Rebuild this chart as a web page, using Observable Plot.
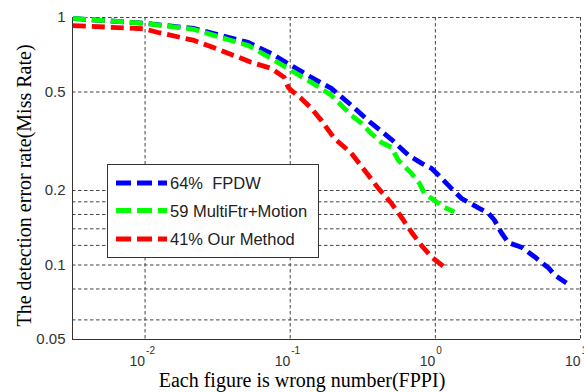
<!DOCTYPE html>
<html>
<head>
<meta charset="utf-8">
<script src="https://cdn.jsdelivr.net/npm/d3@7"></script>
<script src="https://cdn.jsdelivr.net/npm/@observablehq/plot@0.6"></script>
<style>
  html, body { margin: 0; padding: 0; background: #fff; }
  #chart { width: 584px; height: 392px; }
</style>
</head>
<body>
<div id="chart"></div>
<script>
// ---- data ----
const fpdwFppi = [0.00318,0.00984,0.0218,0.0334,0.0513,0.074,0.1016,0.1396,0.1919,0.2635,0.362,0.497,0.652,0.801,0.938,1.049,1.289,1.511,1.98,2.32,2.55,2.85,3.19,3.92,4.82,6.02,6.62,8.0];
const fpdwMiss = [0.991,0.948,0.903,0.846,0.793,0.716,0.640,0.573,0.517,0.442,0.374,0.322,0.278,0.258,0.246,0.231,0.204,0.186,0.170,0.162,0.152,0.135,0.123,0.118,0.108,0.0973,0.0912,0.0846];

const mftrFppi = [0.00318,0.00984,0.0218,0.0334,0.0513,0.074,0.1016,0.1396,0.1919,0.2635,0.309,0.362,0.424,0.497,0.556,0.683,0.776,0.840,0.938,1.154,1.352];
const mftrMiss = [0.991,0.948,0.895,0.830,0.771,0.683,0.611,0.547,0.485,0.403,0.374,0.340,0.313,0.299,0.265,0.235,0.214,0.195,0.186,0.171,0.164];

const oursFppi = [0.00318,0.00984,0.0123,0.0218,0.0334,0.0459,0.0538,0.074,0.0909,0.0969,0.1016,0.119,0.1396,0.1637,0.201,0.2635,0.324,0.405,0.497,0.583,0.683,0.801,0.938,1.154];
const oursMiss = [0.928,0.900,0.870,0.808,0.736,0.684,0.659,0.623,0.573,0.522,0.508,0.471,0.430,0.384,0.325,0.283,0.242,0.204,0.178,0.156,0.136,0.120,0.108,0.098];

const seriesNames = ["64%  FPDW", "59 MultiFtr+Motion", "41% Our Method"];
const seriesColors = ["#0000ff", "#00ff00", "#ff0000"];

const xTicks = [0.01, 0.1, 1, 10];
const xTickExp = ["-2", "-1", "0", "1"];
const yTicks = [0.05, 0.1, 0.2, 0.5, 1];
const yTickLabels = ["0.05", "0.1", "0.2", "0.5", "1"];
const yGrid = [1, 0.5, 0.2, 0.18, 0.16, 0.14, 0.12, 0.1, 0.08, 0.06];
const xGrid = [0.01, 0.1, 1, 10];

const xLabel = "Each figure is wrong number(FPPI)";
const yLabel = "The detection error rate(Miss Rate)";

// ---- build table ----
const rows = [];
[[fpdwFppi, fpdwMiss], [mftrFppi, mftrMiss], [oursFppi, oursMiss]].forEach(([xs, ys], i) => {
  xs.forEach((x, j) => rows.push({series: seriesNames[i], fppi: x, miss: ys[j]}));
});

const xMin = Math.pow(10, -2.5);
const gridStyle = {stroke: "#444", strokeWidth: 1, strokeDasharray: "3.5,2.5"};
const tickFont = "Liberation Sans, Arial, sans-serif";
const serif = "Liberation Serif, Times New Roman, serif";

const chart = Plot.plot({
  width: 584,
  height: 392,
  marginLeft: 72,
  marginRight: 4,
  marginTop: 17,
  marginBottom: 53,
  style: {background: "#fff"},
  x: {type: "log", domain: [xMin, 10], axis: null},
  y: {type: "log", domain: [0.05, 1], axis: null},
  color: {domain: seriesNames, range: seriesColors},
  marks: [
    Plot.ruleY(yGrid, {y: d => d, ...gridStyle}),
    Plot.ruleX(xGrid, {x: d => d, ...gridStyle}),
    Plot.ruleX([xMin], {x: d => d, stroke: "#333", strokeWidth: 1}),
    Plot.ruleY([0.05], {y: d => d, stroke: "#333", strokeWidth: 1}),
    Plot.line(rows, {
      x: "fppi", y: "miss", z: "series", stroke: "series",
      strokeWidth: 4.8, strokeDasharray: "13,6", strokeLinecap: "butt", strokeLinejoin: "round"
    }),
    // y tick labels
    Plot.text(yTicks, {
      y: d => d, frameAnchor: "left", dx: -7, textAnchor: "end",
      text: (d, i) => yTickLabels[i], fontSize: 15, fontFamily: tickFont, fill: "#333"
    }),
    // x tick labels: base "10" + superscript exponent
    Plot.text(xTicks, {
      x: d => d, frameAnchor: "bottom", dy: 26, lineAnchor: "bottom", textAnchor: "end",
      text: () => "10", fontSize: 14, fontFamily: tickFont, fill: "#333"
    }),
    Plot.text(xTicks, {
      x: d => d, frameAnchor: "bottom", dy: 14.5, dx: 1, lineAnchor: "bottom", textAnchor: "start",
      text: (d, i) => xTickExp[i], fontSize: 10, fontFamily: tickFont, fill: "#333"
    }),
    // axis labels
    Plot.text([xLabel], {
      frameAnchor: "bottom", dx: -24.5, dy: 47, lineAnchor: "bottom", textAnchor: "middle",
      text: d => d, fontSize: 20, fontFamily: serif, fill: "#000"
    }),
    Plot.text([yLabel], {
      frameAnchor: "left", dx: -42, dy: 7, lineAnchor: "bottom", textAnchor: "middle", rotate: -90,
      text: d => d, fontSize: 20, fontFamily: serif, fill: "#000"
    })
  ]
});

// ---- legend (inside the plot, drawn into the same SVG) ----
const svg = d3.select(chart);
const lg = svg.append("g").attr("class", "legend");
lg.append("rect")
  .attr("x", 107.5).attr("y", 164.5).attr("width", 211).attr("height", 93)
  .attr("fill", "#fff").attr("stroke", "#333").attr("stroke-width", 1);
const rowY = [183, 210.5, 239];
seriesNames.forEach((name, i) => {
  lg.append("line")
    .attr("x1", 116).attr("x2", 167).attr("y1", rowY[i]).attr("y2", rowY[i])
    .attr("stroke", seriesColors[i]).attr("stroke-width", 4.8)
    .attr("stroke-dasharray", "15,6");
  lg.append("text")
    .attr("x", 170).attr("y", rowY[i] + 6)
    .attr("text-anchor", "start")
    .attr("font-family", tickFont).attr("font-size", 16.5).attr("fill", "#222")
    .style("white-space", "pre")
    .text(name);
});

document.getElementById("chart").appendChild(chart);
</script>
</body>
</html>
